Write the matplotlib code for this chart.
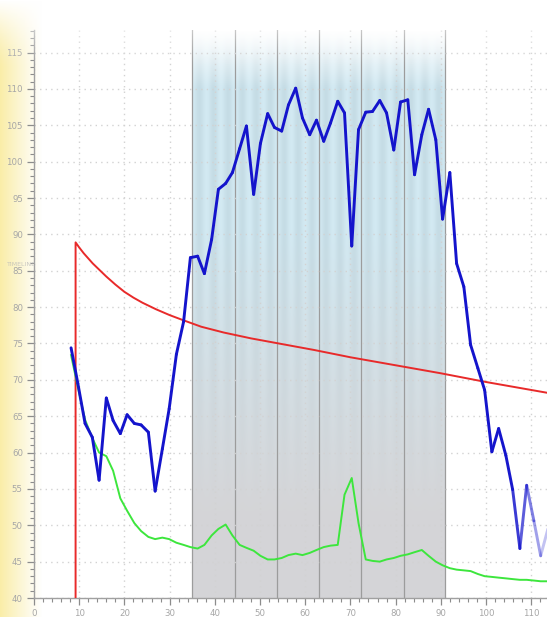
import numpy as np
import matplotlib
matplotlib.use("Agg")
import matplotlib.pyplot as plt
from matplotlib.collections import LineCollection
from matplotlib.ticker import MultipleLocator

# sample positions shared by the blue and green traces
x_samples = [8.2, 9.7, 11.3, 12.9, 14.4, 16.0, 17.5, 19.1, 20.6, 22.2,
             23.7, 25.3, 26.8, 28.4, 29.9, 31.5, 33.1, 34.6, 36.2, 37.7,
             39.3, 40.8, 42.4, 43.9, 45.5, 47.0, 48.6, 50.1, 51.7, 53.2,
             54.8, 56.3, 57.9, 59.4, 61.0, 62.5, 64.1, 65.6, 67.2, 68.7,
             70.3, 71.8, 73.4, 74.9, 76.5, 78.0, 79.6, 81.1, 82.7, 84.2,
             85.8, 87.3, 88.9, 90.4, 92.0, 93.5, 95.1, 96.6, 98.2, 99.7,
             101.3, 102.8, 104.4, 105.9, 107.5, 109.0, 110.6, 112.1, 113.7]

blue_values = [74.4, 69.5, 64.0, 62.1, 56.2, 67.5, 64.4, 62.6, 65.2, 64.0,
               63.8, 62.8, 54.7, 60.5, 66.0, 73.5, 78.0, 86.8, 87.0, 84.6,
               89.3, 96.2, 97.0, 98.5, 101.8, 104.9, 95.5, 102.5, 106.6, 104.7,
               104.2, 107.8, 110.1, 106.0, 103.7, 105.7, 102.8, 105.3, 108.3, 106.7,
               88.4, 104.4, 106.8, 106.9, 108.4, 106.7, 101.6, 108.2, 108.5, 98.2,
               103.7, 107.2, 103.0, 92.1, 98.5, 86.0, 82.8, 74.8, 71.6, 68.6,
               60.1, 63.3, 59.6, 54.9, 46.8, 55.5, 50.6, 45.8, 49.5]

green_values = [73.4, 69.0, 64.5, 62.0, 60.0, 59.5, 57.5, 53.7, 52.0, 50.3,
                49.2, 48.4, 48.1, 48.3, 48.1, 47.6, 47.3, 47.0, 46.8, 47.3,
                48.6, 49.5, 50.1, 48.6, 47.3, 46.9, 46.5, 45.8, 45.3, 45.3,
                45.5, 45.9, 46.1, 45.9, 46.2, 46.6, 47.0, 47.2, 47.3, 54.2,
                56.5, 50.3, 45.3, 45.1, 45.0, 45.3, 45.5, 45.8, 46.0, 46.3,
                46.6, 45.8, 45.0, 44.5, 44.1, 43.9, 43.8, 43.7, 43.3, 43.0,
                42.9, 42.8, 42.7, 42.6, 42.5, 42.5, 42.4, 42.3, 42.3]

# red reference curve: vertical rise at the start, then a slow decay
red_x = [9.2, 9.2, 10.0, 11.0, 12.0, 13.0, 14.0, 15.0, 16.0, 18.0,
         20.0, 22.0, 24.0, 27.0, 30.0, 33.0, 37.0, 42.0, 48.0, 55.0,
         62.0, 70.0, 80.0, 90.0, 100.0, 113.7]
red_values = [40.0, 88.9, 88.2, 87.4, 86.7, 86.0, 85.4, 84.8, 84.2, 83.1,
              82.1, 81.3, 80.6, 79.7, 78.9, 78.2, 77.3, 76.5, 75.7, 74.9,
              74.1, 73.1, 72.0, 70.9, 69.7, 68.2]

band_edges = [35.0, 44.5, 53.8, 63.0, 72.3, 81.8, 91.0]

x_ticks = list(range(0, 111, 10))
y_ticks = list(range(40, 116, 5))

W, H = 547, 617
fig = plt.figure(figsize=(W / 100, H / 100), dpi=100)

# soft yellow wash down the left edge
bg = fig.add_axes([0, 0, 1, 1], zorder=-5)
cols = np.arange(W)
wash = np.clip(1 - cols / 42.0, 0, 1) ** 1.1
tint = np.array([0.98, 0.93, 0.66])
bg_img = 1 - wash[None, :, None] * (1 - tint)[None, None, :] * np.ones((H, 1, 1))
bg.imshow(bg_img, aspect="auto", extent=[0, 1, 0, 1])
bg.axis("off")

ax = fig.add_axes([34 / W, 19 / H, 1 - 34 / W, (598 - 30) / H])
ax.patch.set_alpha(0)
ax.set_xlim(0, 113.5)
ax.set_ylim(40, 118.1)

# shaded block with a grey-to-blue gradient and faint vertical striping
ny, nx = 300, 560
t = np.linspace(0, 1, ny)[:, None]
xs = np.linspace(band_edges[0], band_edges[-1], nx)
gray = np.array([0.835, 0.835, 0.845])
blue = np.array([0.80, 0.89, 0.925])
mix = np.clip((t - 0.15) / 0.5, 0, 1)
img = gray[None, None, :] * (1 - mix[..., None]) + blue[None, None, :] * mix[..., None]
img = np.repeat(img, nx, axis=1)
pos = np.interp(xs, band_edges, np.arange(len(band_edges)))
frac = pos - np.floor(pos)
stripe = 0.025 * np.cos(2 * np.pi * 3 * frac)
img = np.clip(img + stripe[None, :, None] * mix[..., None], 0, 1)
top = np.clip((t - 0.9) / 0.1, 0, 1)[..., None]
img = img * (1 - top) + top
ax.imshow(img, origin="lower", aspect="auto", zorder=0.1,
          extent=[band_edges[0], band_edges[-1], 40, 118.1])
for edge in band_edges:
    ax.axvline(edge, color="#9c9c9c", lw=0.9, zorder=0.3)

ax.set_axisbelow(True)
ax.grid(True, which="major", color="#d2d2d2", lw=1.0, linestyle=(0, (1, 3)))

ax.plot(red_x, red_values, color="#e82a2a", lw=1.4, zorder=3)
ax.plot(x_samples, green_values, color="#3de63d", lw=1.4, zorder=3)

# blue trace fades out towards the right edge
pts = np.column_stack([x_samples, blue_values])
segs = np.stack([pts[:-1], pts[1:]], axis=1)
mid = (pts[:-1, 0] + pts[1:, 0]) / 2
alpha = np.clip(1 - (mid - 105.0) / 9.0 * 0.85, 0.15, 1.0)
colors = [(0.08, 0.08, 0.80, a) for a in alpha]
ax.add_collection(LineCollection(segs, colors=colors, lw=2.1,
                                 capstyle="round", joinstyle="round", zorder=4))

ax.set_xticks(x_ticks)
ax.set_yticks(y_ticks)
ax.xaxis.set_minor_locator(MultipleLocator(2))
ax.yaxis.set_minor_locator(MultipleLocator(1))
ax.tick_params(which="major", length=5, width=0.9, color="#8c8c8c",
               labelsize=6.2, labelcolor="#a6a6a6", pad=3)
ax.tick_params(which="minor", length=3, width=0.8, color="#8c8c8c")
for side in ("top", "right"):
    ax.spines[side].set_visible(False)
for side in ("left", "bottom"):
    ax.spines[side].set_color("#a0a0a0")
    ax.spines[side].set_linewidth(1.0)

fig.text(7 / W, 1 - 265 / H, "TIMELINE", fontsize=4.5, color="#b4b4b4",
         alpha=0.7, va="center")

# white fade across the top of the figure
fade = fig.add_axes([0, 1 - 70 / H, 1, 70 / H], zorder=10)
fa = np.ones((70, 2, 4))
fa[..., 3] = np.clip(1 - np.linspace(0, 1, 70), 0, 1)[:, None] ** 1.4
fade.imshow(fa, aspect="auto", extent=[0, 1, 0, 1])
fade.axis("off")

fig.savefig("out.png", dpi=100)
